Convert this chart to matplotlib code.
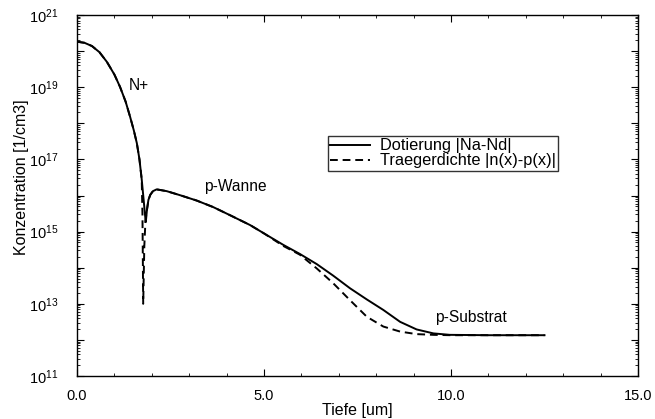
import matplotlib
matplotlib.use("Agg")
import matplotlib.pyplot as plt
from matplotlib.ticker import FixedLocator, FuncFormatter, LogLocator, NullFormatter, MultipleLocator
import numpy as np

plt.rcParams['font.family'] = ['Liberation Sans', 'DejaVu Sans']
plt.rcParams['mathtext.fontset'] = 'custom'
plt.rcParams['mathtext.rm'] = 'Liberation Sans'
plt.rcParams['mathtext.it'] = 'Liberation Sans'

# Doping |Na-Nd| (log10 values)
x_dop = [0.0, 0.2, 0.4, 0.6, 0.8, 1.0, 1.15, 1.3, 1.42, 1.52, 1.60, 1.67, 1.73, 1.78, 1.82, 1.84,
         1.87, 1.91, 1.96, 2.03, 2.13, 2.4, 2.75, 3.2, 3.64, 4.1, 4.63, 5.0, 5.52, 5.96, 6.41,
         6.85, 7.3, 7.75, 8.19, 8.64, 9.08, 9.53, 9.97, 11.0, 12.5]
log_dop = [20.26, 20.23, 20.14, 19.97, 19.70, 19.35, 19.01, 18.6, 18.18, 17.8, 17.45, 17.0, 16.45,
           15.9, 15.45, 15.27, 15.6, 15.88, 16.02, 16.12, 16.17, 16.12, 16.01, 15.86, 15.68, 15.45,
           15.18, 14.95, 14.63, 14.38, 14.10, 13.78, 13.43, 13.12, 12.83, 12.50, 12.29, 12.18,
           12.14, 12.13, 12.13]

# Carrier density |n(x)-p(x)| (log10 values)
x_car = [0.0, 0.2, 0.4, 0.6, 0.8, 1.0, 1.15, 1.3, 1.42, 1.52, 1.60, 1.67, 1.73, 1.75, 1.77, 1.80,
         1.83, 1.87, 1.91, 1.96, 2.03, 2.13, 2.4, 2.75, 3.2, 3.64, 4.1, 4.63, 5.0, 5.52, 5.96,
         6.41, 6.85, 7.3, 7.75, 8.19, 8.64, 9.08, 9.53, 10.0, 11.0, 12.5]
log_car = [20.26, 20.23, 20.14, 19.97, 19.70, 19.35, 19.01, 18.6, 18.18, 17.8, 17.45, 17.0, 16.45,
           15.5, 13.0, 14.6, 15.3, 15.6, 15.88, 16.02, 16.12, 16.17, 16.12, 16.01, 15.86, 15.68,
           15.45, 15.18, 14.95, 14.60, 14.36, 13.98, 13.57, 13.10, 12.64, 12.37, 12.23, 12.16,
           12.14, 12.13, 12.13, 12.13]

labels = ["Dotierung |Na-Nd|", "Traegerdichte |n(x)-p(x)|"]

fig = plt.figure(figsize=(6.55, 4.19), dpi=100)
ax = fig.add_axes([77/655, 1-376/419, (638-77)/655, (376-15)/419])

ax.plot(x_dop, 10**np.array(log_dop), color='black', lw=1.4, ls='-', label=labels[0])
ax.plot(x_car, 10**np.array(log_car), color='black', lw=1.4, ls=(0, (4, 2.5)), label=labels[1])

ax.set_yscale('log')
ax.set_xlim(0, 15)
ax.set_ylim(1e11, 1e21)

ax.xaxis.set_major_locator(FixedLocator([0, 5, 10, 15]))
ax.xaxis.set_minor_locator(MultipleLocator(1))
ax.xaxis.set_major_formatter(FuncFormatter(lambda v, p: f"{v:.1f}"))

ax.yaxis.set_major_locator(FixedLocator([10.0**k for k in range(11, 22)]))
ax.yaxis.set_minor_locator(LogLocator(base=10, subs=np.arange(2, 10), numticks=30))
ax.yaxis.set_minor_formatter(NullFormatter())
def yfmt(v, p):
    k = int(round(np.log10(v)))
    return r"$\mathregular{10^{%d}}$" % k if k % 2 == 1 else ""
ax.yaxis.set_major_formatter(FuncFormatter(yfmt))

ax.tick_params(which='both', direction='in', top=True, right=True, labelsize=10.5)
ax.tick_params(which='major', length=5, width=0.8)
ax.tick_params(which='minor', length=2.5, width=0.6)
ax.tick_params(axis='y', which='major', pad=13.5)
ax.tick_params(axis='x', which='major', pad=9)
for s in ax.spines.values():
    s.set_linewidth(1.0)

ax.set_xlabel("Tiefe [um]", fontsize=11.5, labelpad=0)
ax.set_ylabel("Konzentration [1/cm3]", fontsize=11.5)
ax.yaxis.set_label_coords(-0.085, 0.55)

ax.text(1.39, 10**19.06, "N+", fontsize=11.2, va='center', ha='left')
ax.text(3.40, 10**16.24, "p-Wanne", fontsize=11.2, va='center', ha='left')
ax.text(9.57, 10**12.63, "p-Substrat", fontsize=11.2, va='center', ha='left')

leg = ax.legend(loc='upper left', bbox_to_anchor=((328-77)/561, 1-(136-15)/361),
                frameon=True, fancybox=False, edgecolor='black', fontsize=11.8,
                handlelength=2.4, handletextpad=0.6, borderpad=0.15, labelspacing=0.0,
                borderaxespad=0, handleheight=0.6)
leg.get_frame().set_linewidth(1.0)

fig.savefig("out.png", dpi=100)
